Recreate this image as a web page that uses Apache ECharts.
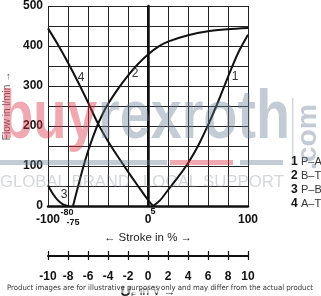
<!DOCTYPE html>
<html><head><meta charset="utf-8">
<script src="https://cdn.jsdelivr.net/npm/echarts@6/dist/echarts.min.js"></script>
<style>html,body{margin:0;padding:0;background:#fff}#c{width:321px;height:296px}</style>
</head><body><div id="c"></div>
<script>
// ---- data ----
const seriesIds = ['1', '2', '3', '4'];
const seriesNames = ['P–A', 'B–T', 'P–B', 'A–T'];
const stroke1 = [5, 12, 20, 30, 40, 50, 60, 70, 80, 90, 100];
const flow1 = [0, 14, 40, 72, 107, 150, 202, 260, 323, 382, 428];
const stroke2 = [-75, -70, -65, -60, -55, -50, -45, -40, -30, -20, -10, 0, 10, 20, 40, 60, 80, 100];
const flow2 = [0, 48, 95, 137, 173, 205, 232, 255, 293, 326, 355, 379, 398, 411, 427, 437, 442, 445];
const stroke3 = [-100, -95, -90, -85, -80];
const flow3 = [52, 30, 14, 4, 0];
const stroke4 = [-100, -90, -80, -70, -60, -50, -40, -30, -20, -10, 0, 5];
const flow4 = [444, 403, 358, 310, 259, 206, 162, 123, 86, 50, 15, 0];
const curveLabelX = [87, -13, -84, -67];
const curveLabelY = [323, 330, 29, 322];
const strokeTickLabels = [-100, 0, 100];
const extraStrokeValues = [-80, -75];
const extraStrokeTexts = ['-80', '-75'];
const zeroSuperscriptValue = 5;
const zeroSuperscriptText = '5';
const voltMin = -10, voltMax = 10, voltStep = 2;
const yAxisTitle = 'Flow in l/min →';
const xAxisTitle = '← Stroke in % →';
const footnote = 'Product images are for illustrative purposes only and may differ from the actual product';
const wm = { buy: 'buy', rexroth: 'rexroth', com: '.com', global: 'GLOBAL BRAND', local: 'LOCAL SUPPORT' };

const strokes = [stroke1, stroke2, stroke3, stroke4];
const flows = [flow1, flow2, flow3, flow4];

const series = seriesNames.map((name, i) => ({
  name: name,
  type: 'line',
  xAxisIndex: 0, yAxisIndex: 0,
  smooth: 0.3,
  symbol: 'none',
  lineStyle: { color: '#111', width: 2 },
  itemStyle: { color: '#111' },
  data: strokes[i].map((x, j) => [x, flows[i][j]]),
  markPoint: {
    symbol: 'circle', symbolSize: 1,
    itemStyle: { color: 'rgba(0,0,0,0)' },
    label: { show: true, position: 'inside', color: '#333', fontSize: 12, fontFamily: 'Liberation Sans', formatter: () => seriesIds[i] },
    data: [{ coord: [curveLabelX[i], curveLabelY[i]], value: seriesIds[i] }]
  },
  z: 3
}));
// zero stroke line
series.push({
  type: 'line', xAxisIndex: 0, yAxisIndex: 0, data: [], silent: true,
  markLine: { symbol: 'none', silent: true, label: { show: false },
    lineStyle: { color: '#111', width: 2, type: 'solid' }, data: [{ xAxis: 0 }] }
});
// voltage scale carrier
series.push({ type: 'line', xAxisIndex: 1, yAxisIndex: 1, data: [], silent: true });

const option = {
  animation: false,
  backgroundColor: '#fff',
  grid: [
    { left: 48, top: 6, width: 200, height: 200, outerBoundsMode: 'none', containLabel: false },
    { left: 48, top: 251, width: 200, height: 9, outerBoundsMode: 'none', containLabel: false }
  ],
  legend: {
    orient: 'vertical', left: 281, top: 150, itemGap: 1,
    icon: 'none', itemWidth: 0, itemHeight: 0, selectedMode: false,
    data: seriesNames,
    formatter: (name) => '{n|' + seriesIds[seriesNames.indexOf(name)] + '} {t|' + name + '}',
    textStyle: {
      lineHeight: 13,
      rich: {
        n: { fontSize: 12, fontWeight: 'bold', color: '#111', fontFamily: 'Liberation Sans' },
        t: { fontSize: 11, color: '#333', fontFamily: 'Liberation Sans' }
      }
    }
  },
  xAxis: [
    {
      gridIndex: 0, type: 'value', min: -100, max: 100, interval: 20,
      axisLine: { show: true, onZero: false, lineStyle: { color: '#111', width: 2.5 } },
      axisTick: { show: false },
      splitLine: { show: true, lineStyle: { color: '#222', width: 1 } },
      axisLabel: {
        margin: 8, color: '#111', fontSize: 12, fontWeight: 'bold', fontFamily: 'Liberation Sans',
        formatter: (v) => strokeTickLabels.indexOf(v) >= 0 ? String(v) : ''
      },
      name: xAxisTitle, nameLocation: 'middle', nameGap: 26,
      nameTextStyle: { color: '#222', fontSize: 11.5, fontFamily: 'Liberation Sans' }
    },
    {
      gridIndex: 1, type: 'value', min: voltMin, max: voltMax, interval: voltStep,
      axisLine: { show: true, onZero: true, lineStyle: { color: '#111', width: 2 } },
      axisTick: { show: false },
      splitLine: { show: true, lineStyle: { color: '#111', width: 1.2 } },
      axisLabel: { margin: 11, color: '#111', fontSize: 12, fontWeight: 'bold', fontFamily: 'Liberation Sans' },
      name: '{u|U}{e|E}{r| in V →}', nameLocation: 'middle', nameGap: 24,
      nameTextStyle: {
        rich: {
          u: { fontSize: 15, fontWeight: 'bold', fontStyle: 'italic', color: '#222', fontFamily: 'Liberation Sans' },
          e: { fontSize: 8, color: '#222', padding: [6, 0, 0, 0], fontFamily: 'Liberation Sans' },
          r: { fontSize: 12, color: '#222', fontFamily: 'Liberation Sans' }
        }
      }
    }
  ],
  yAxis: [
    {
      gridIndex: 0, type: 'value', min: 0, max: 500, interval: 50,
      axisLine: { show: true, lineStyle: { color: '#111', width: 2.5 } },
      axisTick: { show: false },
      splitLine: { show: true, lineStyle: { color: '#222', width: 1 } },
      axisLabel: {
        margin: 5, color: '#111', fontSize: 12, fontWeight: 'bold', fontFamily: 'Liberation Sans',
        formatter: (v) => v % 100 === 0 ? String(v) : ''
      },
      name: yAxisTitle, nameLocation: 'middle', nameGap: 33,
      nameTextStyle: { color: '#666', fontSize: 10, fontFamily: 'Liberation Sans' }
    },
    {
      gridIndex: 1, type: 'value', min: -1, max: 1, show: false
    }
  ],
  series: series
};

const chart = echarts.init(document.getElementById('c'), null, { renderer: 'canvas' });
chart.setOption(option);

const ctx = document.createElement('canvas').getContext('2d');
function fitScale(text, font, w) { ctx.font = font; return w / ctx.measureText(text).width; }
function px(x, y) { return chart.convertToPixel({ gridIndex: 0 }, [x, y]); }

const graphics = [];
// special stroke labels
const p80 = px(extraStrokeValues[0], 0);
graphics.push({ type: 'text', x: p80[0] - 1, y: p80[1] + 7, z: 10,
  style: { text: extraStrokeTexts[0], font: 'bold 9px "Liberation Sans"', fill: '#111', textAlign: 'center', textVerticalAlign: 'middle' } });
const p75 = px(extraStrokeValues[1], 0);
graphics.push({ type: 'text', x: p75[0], y: p75[1] + 17, z: 10,
  style: { text: extraStrokeTexts[1], font: 'bold 9px "Liberation Sans"', fill: '#111', textAlign: 'center', textVerticalAlign: 'middle' } });
const p5 = px(zeroSuperscriptValue, 0);
graphics.push({ type: 'text', x: p5[0], y: p5[1] + 6, z: 10,
  style: { text: zeroSuperscriptText, font: 'bold 9px "Liberation Sans"', fill: '#111', textAlign: 'center', textVerticalAlign: 'middle' } });

// watermark
const wmFontBig = 'bold 68px "Liberation Sans"';
const gray = 'rgba(105,125,150,0.4)';
const pink = 'rgba(220,50,70,0.42)';
graphics.push({ type: 'text', x: 0, y: 153, scaleX: fitScale(wm.buy, wmFontBig, 97), z: 20, silent: true,
  style: { text: wm.buy, font: wmFontBig, fill: pink, textAlign: 'left', textVerticalAlign: 'bottom' } });
graphics.push({ type: 'text', x: 98, y: 153, scaleX: fitScale(wm.rexroth, wmFontBig, 192), z: 20, silent: true,
  style: { text: wm.rexroth, font: wmFontBig, fill: gray, textAlign: 'left', textVerticalAlign: 'bottom' } });
graphics.push({ type: 'rect', shape: { x: 0, y: 160, width: 167, height: 5 }, style: { fill: gray }, z: 20, silent: true });
graphics.push({ type: 'rect', shape: { x: 170, y: 160, width: 63, height: 5 }, style: { fill: pink }, z: 20, silent: true });
graphics.push({ type: 'rect', shape: { x: 240, y: 160, width: 43, height: 5 }, style: { fill: gray }, z: 20, silent: true });
graphics.push({ type: 'rect', shape: { x: 292, y: 98, width: 1.5, height: 67 }, style: { fill: 'rgba(105,125,150,0.3)' }, z: 20, silent: true });
const comFont = 'bold 28px "Liberation Sans"';
graphics.push({ type: 'text', x: 322, y: 170, rotation: Math.PI / 2, scaleX: fitScale(wm.com, comFont, 66), z: 20, silent: true,
  style: { text: wm.com, font: comFont, fill: gray, textAlign: 'left', textVerticalAlign: 'bottom' } });
const gFont = '17px "Liberation Sans"';
const lightGray = 'rgba(120,130,140,0.32)';
graphics.push({ type: 'text', x: 0, y: 182, scaleX: fitScale(wm.global, gFont, 130), z: 20, silent: true,
  style: { text: wm.global, font: gFont, fill: lightGray, textAlign: 'left', textVerticalAlign: 'middle' } });
graphics.push({ type: 'text', x: 143, y: 182, scaleX: fitScale(wm.local, gFont, 141), z: 20, silent: true,
  style: { text: wm.local, font: gFont, fill: lightGray, textAlign: 'left', textVerticalAlign: 'middle' } });

// footnote
const fnFont = '7.5px "DejaVu Sans"';
graphics.push({ type: 'rect', shape: { x: 0, y: 284, width: 321, height: 9 }, style: { fill: 'rgba(255,255,255,0.55)' }, z: 25, silent: true });
graphics.push({ type: 'text', x: 7, y: 288.5, scaleX: fitScale(footnote, fnFont, 306), z: 26, silent: true,
  style: { text: footnote, font: fnFont, fill: '#333', textAlign: 'left', textVerticalAlign: 'middle' } });

chart.setOption({ graphic: graphics });
</script></body></html>
